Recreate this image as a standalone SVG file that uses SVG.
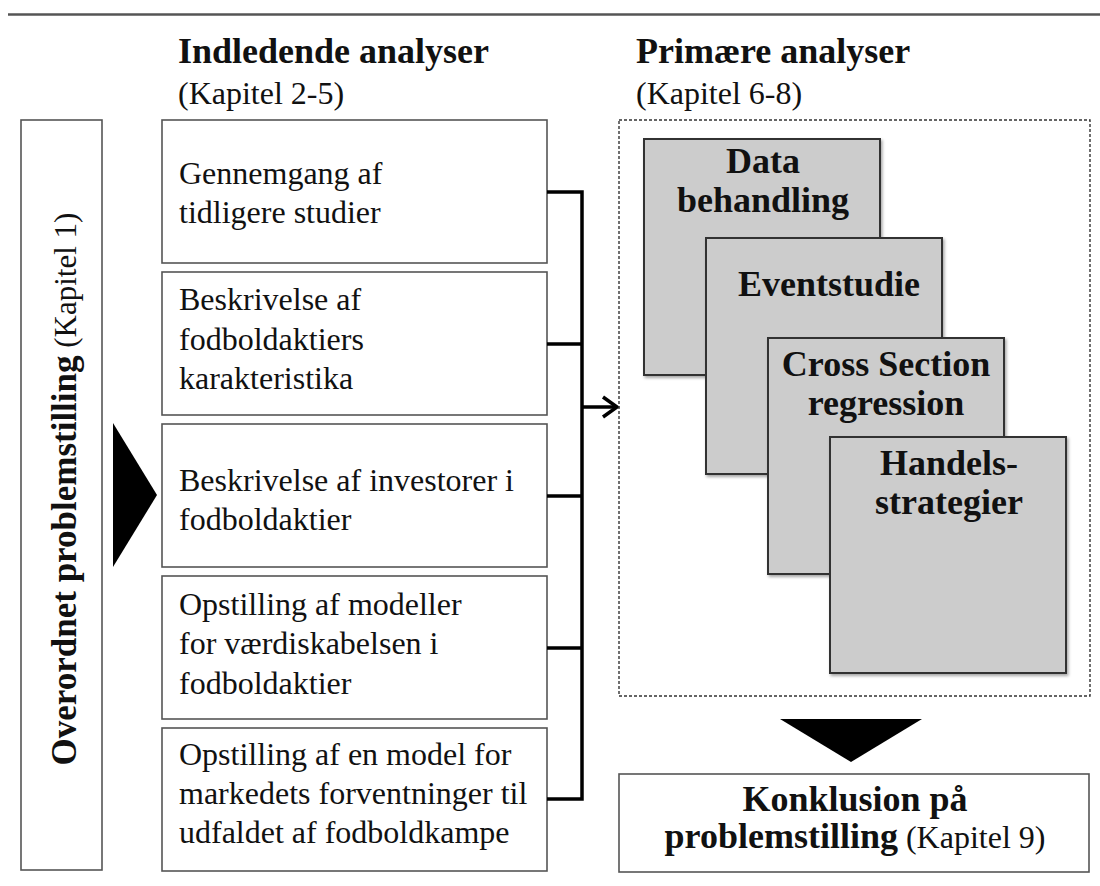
<svg xmlns="http://www.w3.org/2000/svg" width="1100" height="886" viewBox="0 0 1100 886">
<style>
text{font-family:"Liberation Serif","Times New Roman",serif;fill:#111}
.b{font-weight:bold;font-size:36px}
.r{font-size:32px}
.vb{font-weight:bold;font-size:35px}
.vr{font-size:31px}
.box{fill:#fff;stroke:#555;stroke-width:1.6}
.gbox{fill:#cccccc;stroke:#333;stroke-width:2}
.conn{stroke:#000;stroke-width:3.5;fill:none}
</style>
<defs>
<filter id="sh" x="-10%" y="-10%" width="130%" height="130%">
<feDropShadow dx="1.5" dy="2" stdDeviation="1.5" flood-color="#000" flood-opacity="0.35"/>
</filter>
</defs>
<line x1="8" y1="14.5" x2="1100" y2="14.5" stroke="#555" stroke-width="2.5"/>
<g id="header-left">
<text class="b" x="178" y="63">Indledende analyser</text>
<text class="r" x="178" y="104">(Kapitel 2-5)</text>
</g>
<g id="header-right">
<text class="b" x="636" y="63">Primære analyser</text>
<text class="r" x="636" y="104">(Kapitel 6-8)</text>
</g>
<g id="overordnet">
<rect class="box" x="21" y="120" width="81" height="750"/>
<text transform="translate(76,489) rotate(-90)" text-anchor="middle"><tspan class="vb">Overordnet problemstilling</tspan><tspan class="vr"> (Kapitel 1)</tspan></text>
</g>
<g id="arrow-right-big">
<polygon points="113,423 157,495 113,567" fill="#000"/>
</g>
<g id="box1">
<rect class="box" x="162" y="120" width="385" height="143"/>
<text class="r" x="179" y="184">Gennemgang af</text>
<text class="r" x="179" y="223">tidligere studier</text>
</g>
<g id="box2">
<rect class="box" x="162" y="272" width="385" height="143"/>
<text class="r" x="179" y="310">Beskrivelse af</text>
<text class="r" x="179" y="350">fodboldaktiers</text>
<text class="r" x="179" y="389">karakteristika</text>
</g>
<g id="box3">
<rect class="box" x="162" y="424" width="385" height="143"/>
<text class="r" x="179" y="491">Beskrivelse af investorer i</text>
<text class="r" x="179" y="530">fodboldaktier</text>
</g>
<g id="box4">
<rect class="box" x="162" y="576" width="385" height="143"/>
<text class="r" x="179" y="615">Opstilling af modeller</text>
<text class="r" x="179" y="654">for værdiskabelsen i</text>
<text class="r" x="179" y="694">fodboldaktier</text>
</g>
<g id="box5">
<rect class="box" x="162" y="728" width="385" height="143"/>
<text class="r" x="179" y="765">Opstilling af en model for</text>
<text class="r" x="179" y="804">markedets forventninger til</text>
<text class="r" x="179" y="843">udfaldet af fodboldkampe</text>
</g>
<g id="connectors">
<path class="conn" d="M547,192 H582 M547,344 H582 M547,496 H582 M547,648 H582 M547,799 H582 M582,190.25 V800.75 M582,407 H616"/>
<path class="conn" d="M603,397 L617,407 L603,417"/>
</g>
<g id="primary">
<rect x="619" y="120" width="471" height="576" fill="none" stroke="#333" stroke-width="1.4" stroke-dasharray="3,2"/>
</g>
<g id="data-behandling">
<rect class="gbox" x="644" y="139" width="236" height="236" filter="url(#sh)"/>
<text class="b" x="763" y="173" text-anchor="middle">Data</text>
<text class="b" x="763" y="212" text-anchor="middle">behandling</text>
</g>
<g id="eventstudie">
<rect class="gbox" x="706" y="238" width="236" height="236" filter="url(#sh)"/>
<text class="b" x="829" y="296" text-anchor="middle">Eventstudie</text>
</g>
<g id="cross-section">
<rect class="gbox" x="768" y="338" width="236" height="236" filter="url(#sh)"/>
<text class="b" x="886" y="376" text-anchor="middle">Cross Section</text>
<text class="b" x="886" y="415" text-anchor="middle">regression</text>
</g>
<g id="handelsstrategier">
<rect class="gbox" x="830" y="437" width="236" height="236" filter="url(#sh)"/>
<text class="b" x="949" y="475" text-anchor="middle">Handels-</text>
<text class="b" x="949" y="514" text-anchor="middle">strategier</text>
</g>
<g id="arrow-down-big">
<polygon points="780,719 922,719 851,762" fill="#000"/>
</g>
<g id="konklusion">
<rect class="box" x="619" y="774" width="470" height="98"/>
<text class="b" x="855" y="811" text-anchor="middle">Konklusion på</text>
<text x="855" y="848" text-anchor="middle"><tspan class="b">problemstilling</tspan><tspan class="r"> (Kapitel 9)</tspan></text>
</g>
</svg>
